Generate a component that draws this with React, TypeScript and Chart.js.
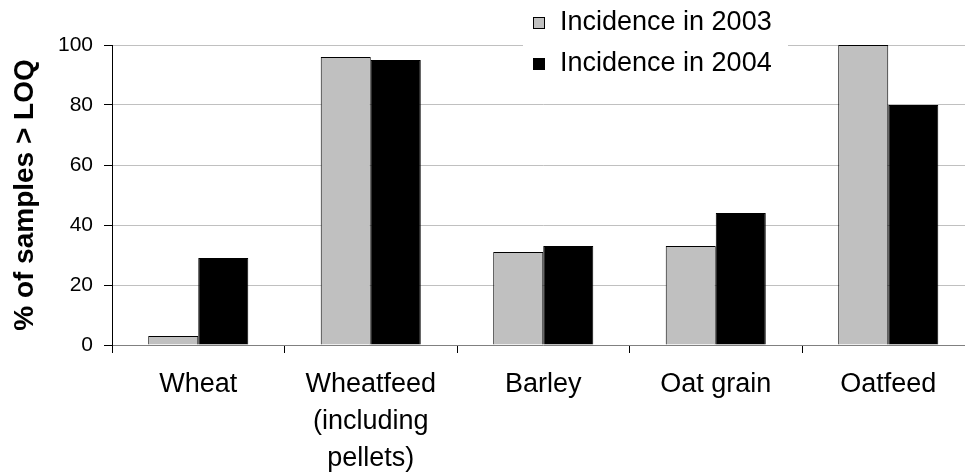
import React, { useEffect, useRef } from "react";
import { Chart, registerables } from "chart.js";

Chart.register(...registerables);

const categories: (string | string[])[] = [
  "Wheat",
  ["Wheatfeed", "(including", "pellets)"],
  "Barley",
  "Oat grain",
  "Oatfeed",
];
const incidence2003 = [3, 96, 31, 33, 100];
const incidence2004 = [29, 95, 33, 44, 80];
const seriesLabels = ["Incidence in 2003", "Incidence in 2004"];
const yTicks = [0, 20, 40, 60, 80, 100];

const FONT = "'Liberation Sans', Arial, Helvetica, sans-serif";

const legendPlugin = {
  id: "boxLegend",
  afterDraw(chart: any) {
    const ctx = chart.ctx;
    ctx.save();
    ctx.fillStyle = "#ffffff";
    ctx.fillRect(523, 0, 265, 86);
    const rows = [23, 64];
    chart.data.datasets.forEach((ds: any, i: number) => {
      const cy = rows[i];
      ctx.fillStyle = ds.backgroundColor;
      ctx.fillRect(533.5, cy - 5.5, 11, 11);
      ctx.strokeStyle = "#000";
      ctx.lineWidth = 1;
      ctx.strokeRect(533.5, cy - 5.5, 11, 11);
      ctx.fillStyle = "#000";
      ctx.font = `27px ${FONT}`;
      ctx.textBaseline = "middle";
      ctx.textAlign = "left";
      ctx.fillText(ds.label, 560, cy);
    });
    ctx.restore();
  },
};

export default function App() {
  const ref = useRef<HTMLCanvasElement | null>(null);
  useEffect(() => {
    if (!ref.current) return;
    const chart = new Chart(ref.current, {
      type: "bar",
      data: {
        labels: categories,
        datasets: [
          {
            label: seriesLabels[0],
            data: incidence2003,
            backgroundColor: "#c0c0c0",
            borderColor: "#000",
            borderWidth: 1,
            categoryPercentage: 0.58,
            barPercentage: 1,
          },
          {
            label: seriesLabels[1],
            data: incidence2004,
            backgroundColor: "#000000",
            borderColor: "#000",
            borderWidth: 1,
            categoryPercentage: 0.58,
            barPercentage: 1,
          },
        ],
      },
      options: {
        responsive: false,
        animation: false,
        devicePixelRatio: 1,
        layout: { padding: { top: 45, right: 5.5, left: 0, bottom: 0 } },
        plugins: {
          legend: { display: false },
          tooltip: { enabled: false },
        },
        scales: {
          x: {
            afterFit: (s: any) => {
              s.height = 129;
            },
            grid: {
              display: true,
              drawOnChartArea: false,
              drawTicks: true,
              tickLength: 8,
              tickColor: "#000",
              offset: true,
            },
            border: { display: true, color: "#808080", width: 1 },
            ticks: {
              autoSkip: false,
              maxRotation: 0,
              minRotation: 0,
              padding: 13,
              color: "#000",
              font: { family: FONT, size: 27, lineHeight: 1.37 },
            },
          },
          y: {
            min: 0,
            max: 100,
            afterFit: (s: any) => {
              s.width = 112;
            },
            afterBuildTicks: (s: any) => {
              s.ticks = yTicks.map((v) => ({ value: v }));
            },
            grid: {
              color: "#c0c0c0",
              lineWidth: 1,
              tickLength: 8,
              tickColor: "#000",
            },
            border: { display: true, color: "#000", width: 1 },
            ticks: {
              padding: 11,
              color: "#000",
              font: { family: FONT, size: 21 },
            },
            title: {
              display: true,
              text: "% of samples > LOQ",
              color: "#000",
              padding: { top: 8, bottom: 0 },
              font: { family: FONT, size: 28, weight: "bold", lineHeight: 1.2 },
            },
          },
        },
      },
      plugins: [legendPlugin],
    });
    return () => chart.destroy();
  }, []);
  return (
    <div
      style={{
        position: "fixed",
        left: 0,
        top: 0,
        width: 965,
        height: 474,
        overflow: "hidden",
        background: "#fff",
      }}
    >
      <canvas ref={ref} width={980} height={474} style={{ display: "block" }} />
    </div>
  );
}
